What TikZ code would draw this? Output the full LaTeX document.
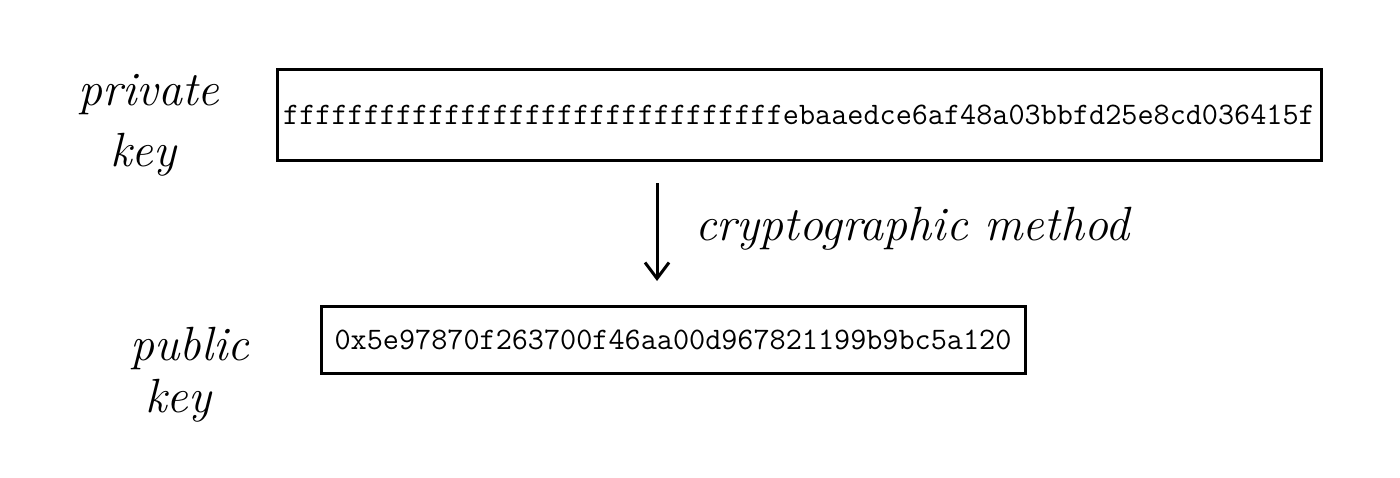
\documentclass[tikz,border=0pt]{standalone}
\usepackage{fontspec}
\usetikzlibrary{arrows.meta}
\def\tenf{ffffffffff}
\tikzset{
  keybox/.style={draw=black, line width=3pt, inner sep=0pt, font=\ttfamily\fontsize{31.3}{35}\selectfont},
  hand/.style={font=\itshape\fontsize{48}{56}\selectfont, inner sep=0pt, anchor=base west},
  flow/.style={line width=3pt, -{Straight Barb[length=16pt,width=24pt,line width=3pt]}}
}
\begin{document}
\begin{tikzpicture}[x=1pt,y=-1pt]
\useasboundingbox (0,0) rectangle (1400,477);
\node[keybox, minimum width=1044pt, minimum height=91pt] (priv) at (799,114.5)
  {\tenf\tenf\tenf febaaedce6af48a03bbfd25e8cd036415f};
\node[keybox, minimum width=704pt, minimum height=67pt] (pub) at (673,339.5)
  {0x5e97870f263700f46aa00d967821199b9bc5a120};
\node[hand] (privlabel) at (78,105) {private};
\node[hand] (privkey) at (110,166) {key};
\node[hand] (publabel) at (130,360) {public};
\node[hand] (pubkey) at (145,412) {key};
\coordinate (a1) at (657,183);
\coordinate (a2) at (657,281);
\draw[flow] (a1) -- (a2);
\node[hand] (method) at (695,240) {cryptographic method};
\end{tikzpicture}
\end{document}
